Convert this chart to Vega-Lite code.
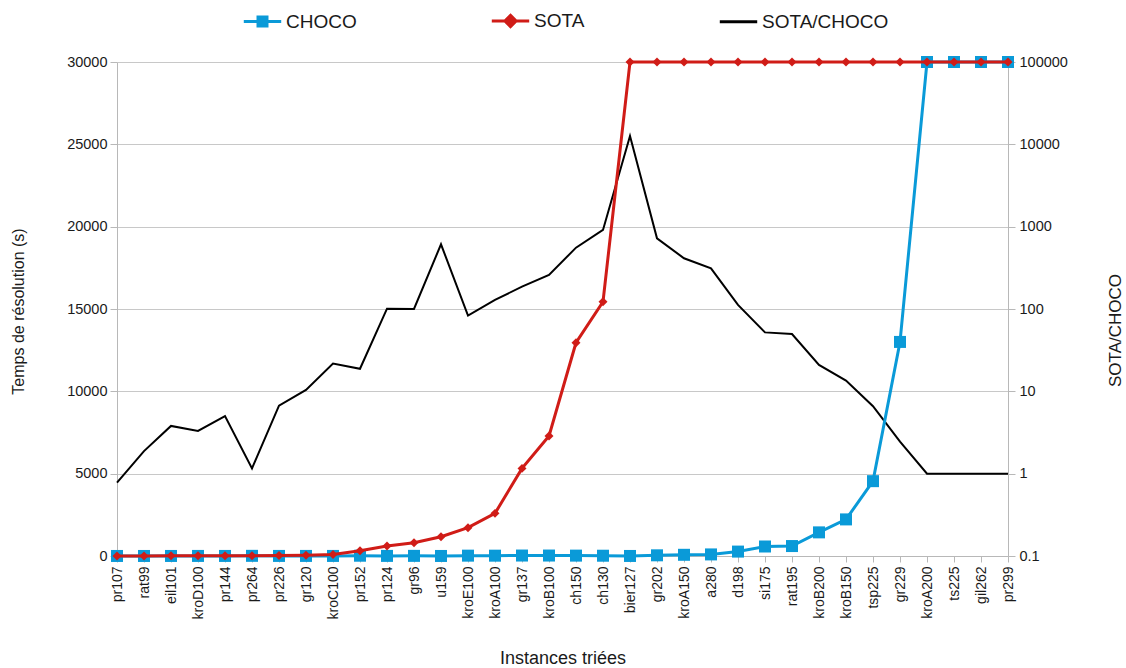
{
  "$schema": "https://vega.github.io/schema/vega-lite/v6.json",
  "width": 891,
  "height": 494,
  "autosize": {"type": "none"},
  "padding": {"left": 117, "top": 62, "right": 118, "bottom": 112},
  "background": "white",
  "config": {
    "font": "Liberation Sans",
    "view": {"stroke": null},
    "axis": {
      "labelFont": "Liberation Sans",
      "titleFont": "Liberation Sans",
      "labelColor": "#1a1a1a",
      "titleColor": "#1a1a1a",
      "domainColor": "#b8b8b8",
      "tickColor": "#b8b8b8",
      "gridColor": "#c8c8c8",
      "titleFontWeight": "normal"
    }
  },
  "data": {
    "values": [
      {"instance": "pr107", "CHOCO": 2, "SOTA": 1.6, "ratio": 0.78},
      {"instance": "rat99", "CHOCO": 2, "SOTA": 3.8, "ratio": 1.88},
      {"instance": "eil101", "CHOCO": 2.6, "SOTA": 10, "ratio": 3.8},
      {"instance": "kroD100", "CHOCO": 4.5, "SOTA": 15, "ratio": 3.3},
      {"instance": "pr144", "CHOCO": 4, "SOTA": 20, "ratio": 5.0},
      {"instance": "pr264", "CHOCO": 10, "SOTA": 12, "ratio": 1.16},
      {"instance": "pr226", "CHOCO": 4.5, "SOTA": 30, "ratio": 6.7},
      {"instance": "gr120", "CHOCO": 4.8, "SOTA": 50, "ratio": 10.4},
      {"instance": "kroC100", "CHOCO": 4.1, "SOTA": 89, "ratio": 21.7},
      {"instance": "pr152", "CHOCO": 17, "SOTA": 320, "ratio": 18.8},
      {"instance": "pr124", "CHOCO": 6, "SOTA": 607, "ratio": 101},
      {"instance": "gr96", "CHOCO": 8, "SOTA": 808, "ratio": 100},
      {"instance": "u159", "CHOCO": 2, "SOTA": 1172, "ratio": 611},
      {"instance": "kroE100", "CHOCO": 21, "SOTA": 1720, "ratio": 83},
      {"instance": "kroA100", "CHOCO": 20, "SOTA": 2590, "ratio": 129},
      {"instance": "gr137", "CHOCO": 28, "SOTA": 5320, "ratio": 187},
      {"instance": "kroB100", "CHOCO": 28, "SOTA": 7290, "ratio": 259},
      {"instance": "ch150", "CHOCO": 23, "SOTA": 12950, "ratio": 556},
      {"instance": "ch130", "CHOCO": 17, "SOTA": 15440, "ratio": 912},
      {"instance": "bier127", "CHOCO": 2.4, "SOTA": 30000, "ratio": 12620},
      {"instance": "gr202", "CHOCO": 41.5, "SOTA": 30000, "ratio": 722},
      {"instance": "kroA150", "CHOCO": 73, "SOTA": 30000, "ratio": 413},
      {"instance": "a280", "CHOCO": 96, "SOTA": 30000, "ratio": 312},
      {"instance": "d198", "CHOCO": 268, "SOTA": 30000, "ratio": 112},
      {"instance": "si175", "CHOCO": 577, "SOTA": 30000, "ratio": 52},
      {"instance": "rat195", "CHOCO": 604, "SOTA": 30000, "ratio": 49.7},
      {"instance": "kroB200", "CHOCO": 1435, "SOTA": 30000, "ratio": 20.9},
      {"instance": "kroB150", "CHOCO": 2222, "SOTA": 30000, "ratio": 13.5},
      {"instance": "tsp225", "CHOCO": 4545, "SOTA": 30000, "ratio": 6.6},
      {"instance": "gr229", "CHOCO": 13000, "SOTA": 30000, "ratio": 2.45},
      {"instance": "kroA200", "CHOCO": 30000, "SOTA": 30000, "ratio": 1},
      {"instance": "ts225", "CHOCO": 30000, "SOTA": 30000, "ratio": 1},
      {"instance": "gil262", "CHOCO": 30000, "SOTA": 30000, "ratio": 1},
      {"instance": "pr299", "CHOCO": 30000, "SOTA": 30000, "ratio": 1}
    ]
  },
  "encoding": {
    "x": {
      "field": "instance",
      "type": "nominal",
      "sort": null,
      "scale": {"type": "point", "padding": 0},
      "axis": {
        "title": "Instances  triées",
        "labelAngle": -90,
        "labelFontSize": 14,
        "tickSize": 6,
        "labelPadding": 4,
        "titleFontSize": 18,
        "titleY": 102,
        "titleBaseline": "middle",
        "grid": false
      }
    }
  },
  "layer": [
    {
      "mark": {"type": "line", "strokeWidth": 2},
      "encoding": {
        "y": {
          "field": "ratio",
          "type": "quantitative",
          "scale": {"type": "log", "domain": [0.1, 100000]},
          "axis": {
            "orient": "right",
            "title": "SOTA/CHOCO",
            "values": [0.1, 1, 10, 100, 1000, 10000, 100000],
            "format": "~g",
            "grid": false,
            "labelFontSize": 14.5,
            "tickSize": 7,
            "labelPadding": 4,
            "titleAngle": -90,
            "titleFontSize": 17,
            "titleX": 107,
            "titleY": 268,
            "titleBaseline": "middle",
            "titleAlign": "center"
          }
        },
        "color": {
          "datum": "SOTA/CHOCO",
          "type": "nominal",
          "scale": {"domain": ["CHOCO", "SOTA", "SOTA/CHOCO"], "range": ["#0a9ad8", "#d01c17", "#000000"]},
          "legend": {
            "orient": "none",
            "legendX": 125,
            "legendY": -62,
            "direction": "horizontal",
            "columns": 3,
            "columnPadding": 128,
            "title": null,
            "labelFontSize": 19,
            "labelFont": "Liberation Sans",
            "labelColor": "#1a1a1a",
            "symbolSize": 1400,
            "symbolStrokeWidth": 3,
            "labelOffset": 3,
            "encode": {
              "symbols": {
                "update": {
                  "shape": {"signal": "datum.value === 'CHOCO' ? 'M-1,0H1M-0.24,-0.24H0.24V0.24H-0.24Z' : datum.value === 'SOTA' ? 'M-1,0H1M0,-0.3L0.3,0L0,0.3L-0.3,0Z' : 'M-1,0H1'"},
                  "fill": {"scale": "color", "field": "value"},
                  "stroke": {"scale": "color", "field": "value"}
                }
              }
            }
          }
        }
      }
    },
    {
      "layer": [
        {
          "mark": {"type": "line", "strokeWidth": 3, "point": {"shape": "square", "size": 144, "filled": true}},
          "encoding": {
            "y": {
              "field": "CHOCO",
              "type": "quantitative",
              "scale": {"domain": [0, 30000]},
              "axis": {
                "orient": "left",
                "title": "Temps de résolution (s)",
                "values": [0, 5000, 10000, 15000, 20000, 25000, 30000],
                "format": "d",
                "grid": true,
                "labelFontSize": 14.5,
                "tickSize": 7,
                "labelPadding": 3,
                "titleFontSize": 16,
                "titleX": -99,
                "titleY": 249,
                "titleBaseline": "middle",
                "titleAlign": "center"
              }
            },
            "color": {"datum": "CHOCO", "type": "nominal"}
          }
        },
        {
          "mark": {"type": "line", "strokeWidth": 3, "point": {"shape": "diamond", "size": 80, "filled": true}},
          "encoding": {
            "y": {
              "field": "SOTA",
              "type": "quantitative",
              "scale": {"domain": [0, 30000]},
              "axis": {
                "orient": "left",
                "title": "Temps de résolution (s)",
                "values": [0, 5000, 10000, 15000, 20000, 25000, 30000],
                "format": "d",
                "grid": true,
                "labelFontSize": 14.5,
                "tickSize": 7,
                "labelPadding": 3,
                "titleFontSize": 16,
                "titleX": -99,
                "titleY": 249,
                "titleBaseline": "middle",
                "titleAlign": "center"
              }
            },
            "color": {"datum": "SOTA", "type": "nominal"}
          }
        }
      ]
    }
  ],
  "resolve": {"scale": {"y": "independent"}}
}
